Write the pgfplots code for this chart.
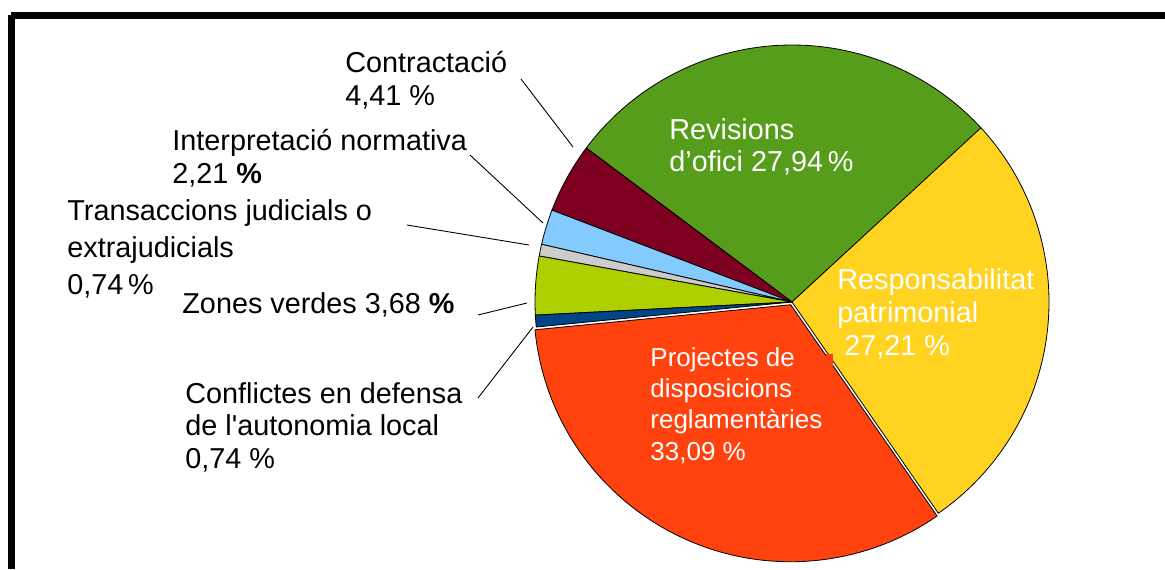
\documentclass[border=0pt]{standalone}
\usepackage{fontspec}
\setmainfont{Liberation Sans}
\usepackage{etoolbox}
\usepackage{pgfplots}
\usepackage{pgfplotstable}
\pgfplotsset{compat=1.18}

\definecolor{cRev}{HTML}{579D1C}
\definecolor{cCon}{HTML}{7E0021}
\definecolor{cInt}{HTML}{83CAFF}
\definecolor{cTra}{HTML}{CCCCCC}
\definecolor{cZon}{HTML}{AECF00}
\definecolor{cConf}{HTML}{004586}
\definecolor{cPro}{HTML}{FF420E}
\definecolor{cRes}{HTML}{FFD320}

% share (%) of each category, counter-clockwise from the green wedge
\pgfplotstableread[col sep=comma]{
key,value,color,explode
revisions,27.94,cRev,0
contractacio,4.41,cCon,0
interpretacio,2.21,cInt,0
transaccions,0.74,cTra,0
zones,3.68,cZon,0
conflictes,0.74,cConf,0
projectes,33.09,cPro,1.5
responsabilitat,27.21,cRes,0
}\piedata

\newcommand\lbl{\fontsize{14.4pt}{17pt}\selectfont}
\newcommand\lblsm{\fontsize{13pt}{16pt}\selectfont}

% build the wedges from the table
\def\cx{792}\def\cy{267}\def\rad{128.5pt}
\pgfplotstablegetrowsof{\piedata}
\pgfmathtruncatemacro\nrows{\pgfplotsretval-1}
\gdef\wedges{}
\xdef\acc{42.6}
\pgfplotsforeachungrouped \i in {0,...,\nrows}{%
  \pgfplotstablegetelem{\i}{value}\of\piedata \let\val\pgfplotsretval
  \pgfplotstablegetelem{\i}{color}\of\piedata \let\col\pgfplotsretval
  \pgfplotstablegetelem{\i}{explode}\of\piedata \let\ex\pgfplotsretval
  \pgfmathsetmacro\aend{\acc+3.6*\val}%
  \pgfmathsetmacro\amid{(\acc+\aend)/2}%
  \xappto\wedges{%
    \noexpand\filldraw[fill=\col,draw=black,line width=0.4pt]
    ([shift={(\amid:\ex pt)}]axis cs:\cx,\cy) -- ++(\acc:\rad)
    arc[start angle=\acc,end angle=\aend,radius=\rad] -- cycle;}%
  \xdef\acc{\aend}%
}

\begin{document}
\begin{tikzpicture}
\begin{axis}[
  x=0.5pt, y=0.5pt,
  xmin=0, xmax=1165, ymin=0, ymax=569,
  hide axis, clip=false,
]
% frame (left and top edges only)
\fill[black] (axis cs:11,550) rectangle (axis cs:1165,557);
\fill[black] (axis cs:8,0) rectangle (axis cs:15,554);

\wedges
\fill[cPro] (axis cs:826,203) rectangle (axis cs:833,215);

% leader lines
\draw[line width=0.45pt] (axis cs:521,490) -- (axis cs:573,422);
\draw[line width=0.45pt] (axis cs:470,414) -- (axis cs:543,346);
\draw[line width=0.45pt] (axis cs:407,344) -- (axis cs:529,324);
\draw[line width=0.45pt] (axis cs:478,254) -- (axis cs:527,266);
\draw[line width=0.45pt] (axis cs:478,171) -- (axis cs:533,242);

% outer labels
\begin{scope}[every node/.style={anchor=base west, inner sep=0pt, font=\lbl}]
\node at (axis cs:345,496) {Contractació};
\node at (axis cs:345,464) {4,41 \%};
\node at (axis cs:172,419) {Interpretació normativa};
\node at (axis cs:172,386) {2,21 \textbf{\%}};
\node at (axis cs:67,349) {Transaccions judicials o};
\node at (axis cs:67,312) {extrajudicials};
\node at (axis cs:67,275) {0,74\,\%};
\node at (axis cs:182,256) {Zones verdes 3,68 \textbf{\%}};
\node at (axis cs:185,166) {Conflictes en defensa};
\node at (axis cs:185,134) {de l\textquotesingle autonomia local};
\node at (axis cs:185,101) {0,74 \%};
\end{scope}

% inner labels
\begin{scope}[every node/.style={anchor=base west, inner sep=0pt, font=\lbl, text=white}]
\node at (axis cs:669,430) {Revisions};
\node at (axis cs:669,398) {d’ofici 27,94\,\%};
\node at (axis cs:837,280) {Responsabilitat};
\node at (axis cs:837,247) {patrimonial};
\node at (axis cs:844,214) {27,21 \%};
\end{scope}
\begin{scope}[every node/.style={anchor=base west, inner sep=0pt, font=\lblsm, text=white}]
\node at (axis cs:650,203) {Projectes de};
\node at (axis cs:650,172) {disposicions};
\node at (axis cs:650,141) {reglamentàries};
\node at (axis cs:650,109) {33,09 \%};
\end{scope}
\end{axis}
\pgfresetboundingbox
\path (current axis.south west) rectangle (current axis.north east);
\end{tikzpicture}
\end{document}
